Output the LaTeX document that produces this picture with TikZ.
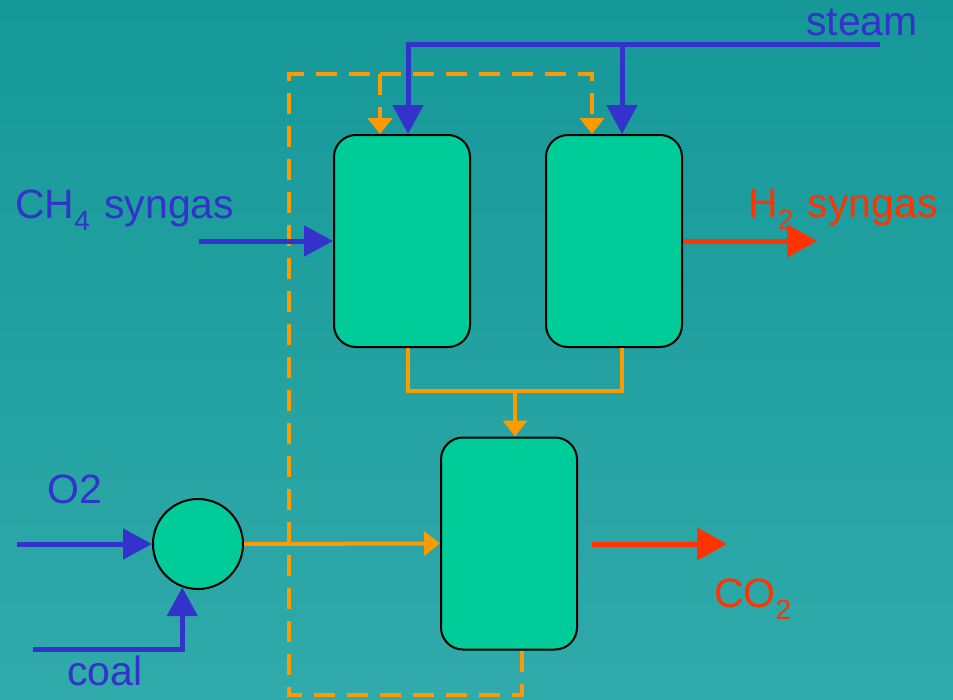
\documentclass[tikz,border=0pt]{standalone}
\usepackage{fontspec}
\setmainfont{Liberation Sans}
\usetikzlibrary{arrows.meta}
\definecolor{flowblue}{RGB}{51,51,204}
\definecolor{flowred}{RGB}{255,51,0}
\definecolor{floworange}{RGB}{255,153,0}
\definecolor{unitgreen}{RGB}{0,204,153}
\definecolor{bgdark}{RGB}{22,152,152}
\definecolor{bglight}{RGB}{48,170,170}
\newcommand{\lowsub}[1]{\raisebox{-12pt}{\fontsize{28}{28}\selectfont #1}\hspace{3pt}}
\tikzset{
  unit/.style={draw=black, line width=2pt, fill=unitgreen, rounded corners=22pt,
    minimum width=136pt, minimum height=212pt, inner sep=0pt},
  mixer/.style={draw=black, line width=2pt, fill=unitgreen, circle,
    minimum size=90pt, inner sep=0pt},
  bluearr/.style={draw=flowblue, line width=5pt, -{Triangle[length=29pt,width=30pt]}},
  redarr/.style={draw=flowred, line width=5pt, -{Triangle[length=30pt,width=32pt]}},
  orline/.style={draw=floworange, line width=4pt},
  orarr/.style={orline, -{Triangle[length=16pt,width=24pt]}},
  ordash/.style={orline, dash pattern=on 21pt off 12pt},
  lbl/.style={inner sep=0pt, font=\fontsize{41}{41}\selectfont},
}
\begin{document}
\begin{tikzpicture}[x=1pt,y=-1pt]
\useasboundingbox (0,0) rectangle (953,699);
\shade[shading=axis, shading angle=-60, top color=bgdark, bottom color=bglight] (0,0) rectangle (953,699);

% units
\node[unit] (A) at (402,241) {};
\node[unit] (B) at (614,241) {};
\node[unit] (C) at (509,543.5) {};
\node[mixer] (mix) at (198,544) {};

% steam
\coordinate (steamin) at (880,44);
\coordinate (steamsplit) at (622,44);
\draw[bluearr] (steamin) -| ([xshift=6pt]A.north);
\draw[bluearr] (steamsplit) -- ([xshift=8pt]B.north);

% orange dashed recycle
\coordinate (dsplit) at (380,74);
\draw[ordash] ([xshift=13pt]C.south) -- ++(0,44) -| (289,74) -- (dsplit);
\draw[ordash] (dsplit) -- (380,118);
\draw[orarr] (380,118) -- ([xshift=-22pt]A.north);
\draw[ordash] (dsplit) -| (592,118);
\draw[orarr] (592,118) -- ([xshift=-22pt]B.north);

% orange solid
\coordinate (osplit) at (515,391);
\draw[orline] ([xshift=6pt]A.south) |- (osplit) -| ([xshift=8pt]B.south);
\draw[orarr] (osplit) -- ([xshift=6pt]C.north);
\draw[orarr] (mix.east) -- (C.west);

% feeds
\coordinate (ch4in) at (199,241);
\draw[bluearr] (ch4in) -- (A.west);
\coordinate (h2out) at (817,241);
\draw[redarr] (B.east) -- (h2out);
\coordinate (o2in) at (17,544);
\draw[bluearr] (o2in) -- (mix.west);
\coordinate (coalin) at (33,649);
\draw[bluearr] (coalin) -| (mix.250);
\coordinate (co2s) at (592,544);
\coordinate (co2e) at (727,544);
\draw[redarr] (co2s) -- (co2e);

% labels
\node[lbl, text=flowblue, anchor=base east] (tsteam) at (918,35) {steam};
\node[lbl, text=flowblue, anchor=base west] (tch4) at (15,218) {CH\lowsub{4} syngas};
\node[lbl, text=flowred, anchor=base west] (th2) at (748,217) {H\lowsub{2} syngas};
\node[lbl, text=flowblue, anchor=base west] (to2) at (47,503) {O2};
\node[lbl, text=flowblue, anchor=base west] (tcoal) at (67,685) {coal};
\node[lbl, text=flowred, anchor=base west] (tco2) at (714,607) {CO\lowsub{2}};
\end{tikzpicture}
\end{document}
